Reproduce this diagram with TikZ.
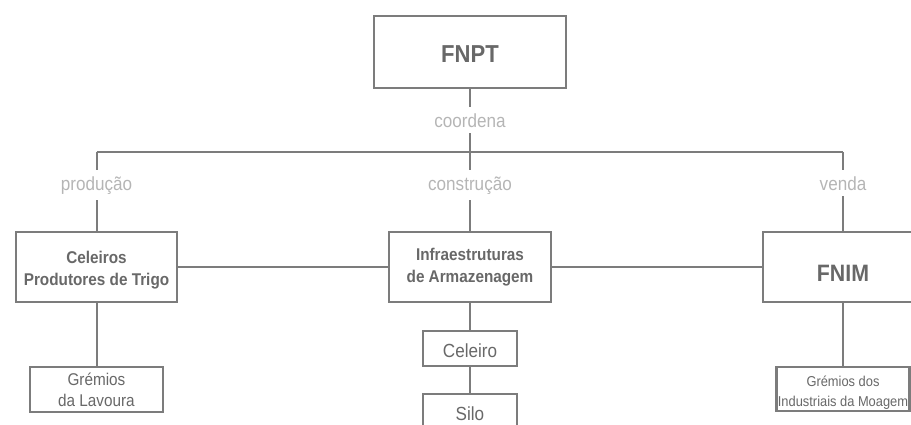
\documentclass[tikz,border=0pt]{standalone}
\usepackage{fontspec}
\setmainfont{Liberation Sans}[FakeStretch=0.9]
\definecolor{linegray}{HTML}{7C7C7C}
\definecolor{textgray}{HTML}{686868}
\definecolor{lblgray}{HTML}{B5B5B5}
\newcommand{\upstrut}[1]{\rule{0pt}{#1}}
\begin{document}
\begin{tikzpicture}[x=1pt,y=-1pt,
  box/.style={draw=linegray,line width=2.2pt,fill=white,text=textgray,align=center,inner sep=0pt},
  lbl/.style={text=lblgray,inner xsep=2pt,inner ysep=6pt,font=\fontsize{19}{22}\selectfont},
  conn/.style={draw=linegray,line width=2pt}]
\useasboundingbox (0,0) rectangle (911,424);
\clip (0,0) rectangle (911,424);
% boxes
\node[box,minimum width=192pt,minimum height=72pt,font=\bfseries\fontsize{24.5}{26}\selectfont] (fnpt) at (470,52) {\upstrut{21.8pt}FNPT};
\node[box,minimum width=161pt,minimum height=70pt,font=\bfseries\fontsize{17}{22}\selectfont] (celeiros) at (96.5,267) {\upstrut{18.4pt}Celeiros\\Produtores de Trigo};
\node[box,minimum width=162pt,minimum height=70pt,font=\bfseries\fontsize{17}{22}\selectfont] (infra) at (470,267) {\upstrut{13.5pt}Infraestruturas\\de Armazenagem};
\node[box,minimum width=160pt,minimum height=70pt,font=\bfseries\fontsize{23.7}{26}\selectfont] (fnim) at (843,267) {\upstrut{28.3pt}FNIM};
\node[box,minimum width=133pt,minimum height=45pt,font=\fontsize{17}{20.7}\selectfont] (grem1) at (96.5,389.5) {Grémios\\da Lavoura};
\node[box,minimum width=94pt,minimum height=35pt,font=\fontsize{19}{22}\selectfont] (celeiro) at (470,348.5) {\upstrut{17.9pt}Celeiro};
\node[box,minimum width=94pt,minimum height=35pt,font=\fontsize{19}{22}\selectfont] (silo) at (470,411.5) {\upstrut{17.9pt}Silo};
\node[box,minimum width=133pt,minimum height=44pt,font=\fontsize{14.3}{20}\selectfont] (grem2) at (843,389) {\upstrut{18.4pt}Grémios dos\\Industriais da Moagem};
% labels
\node[lbl,anchor=base] (lc) at (470,127) {coordena};
\node[lbl,anchor=base] (lp) at (96.5,190) {produção};
\node[lbl,anchor=base] (lk) at (470,190) {construção};
\node[lbl,anchor=base] (lv) at (843,190) {venda};
% junctions
\coordinate (jl) at (96.5,152);
\coordinate (jc) at (470,152);
\coordinate (jr) at (843,152);
% connectors
\draw[conn] (fnpt) -- (lc);
\draw[conn] (lc) -- (jc);
\draw[conn] (jl) -- (jr);
\draw[conn] (jl) -- (lp);
\draw[conn] (lp) -- (celeiros);
\draw[conn] (jc) -- (lk);
\draw[conn] (lk) -- (infra);
\draw[conn] (jr) -- (lv);
\draw[conn] (lv) -- (fnim);
\draw[conn] (celeiros) -- (infra);
\draw[conn] (infra) -- (fnim);
\draw[conn] (celeiros) -- (grem1);
\draw[conn] (infra) -- (celeiro);
\draw[conn] (celeiro) -- (silo);
\draw[conn] (fnim) -- (grem2);
\end{tikzpicture}
\end{document}
